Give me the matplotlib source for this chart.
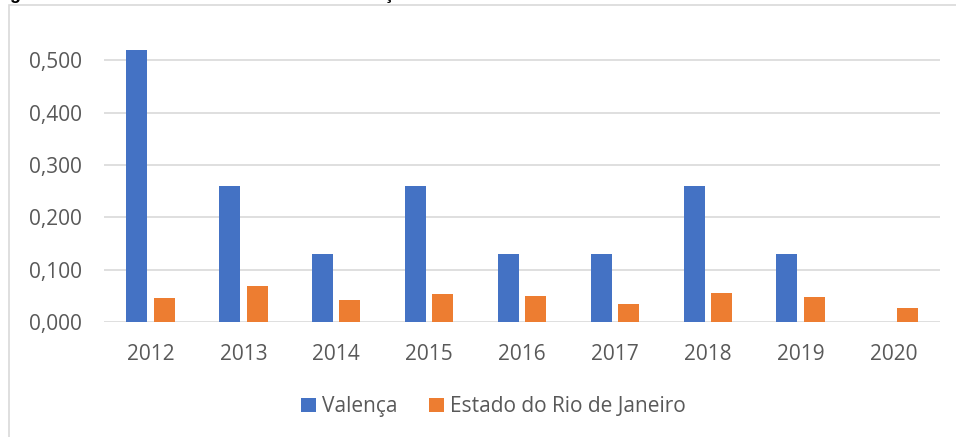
import matplotlib.pyplot as plt
import numpy as np
from matplotlib.patches import Rectangle

anos = ["2012", "2013", "2014", "2015", "2016", "2017", "2018", "2019", "2020"]
valenca = [0.520, 0.260, 0.130, 0.260, 0.130, 0.130, 0.260, 0.130, 0.0]
estado_rj = [0.046, 0.069, 0.042, 0.053, 0.050, 0.034, 0.055, 0.048, 0.027]
titulo = "gráfico 3 – Número de óbitos devido a doenças associadas à falta de saneamento básico"

plt.rcParams['font.family'] = ['Open Sans', 'DejaVu Sans']

W, H = 956, 437
fig = plt.figure(figsize=(W / 100, H / 100), dpi=100)
ax = fig.add_axes([104 / W, 1 - 322 / H, 836 / W, (322 - 8) / H])

x = np.arange(len(anos))
w = 0.226
ax.bar(x - 0.148, valenca, w, color="#4472C4", label="Valença")
ax.bar(x + 0.148, estado_rj, w, color="#ED7D31", label="Estado do Rio de Janeiro")

ax.set_xlim(-0.5, len(anos) - 0.5)
ax.set_ylim(0, 0.6)
ax.set_yticks([0, 0.1, 0.2, 0.3, 0.4, 0.5])
ax.set_yticklabels(["0,000", "0,100", "0,200", "0,300", "0,400", "0,500"])
ax.set_xticks(x)
ax.set_xticklabels(anos)
ax.tick_params(length=0, labelsize=15, colors="#595959")
ax.tick_params(axis="y", pad=16)
ax.tick_params(axis="x", pad=15.5)
ax.grid(axis="y", color="#d9d9d9", lw=1.2)
ax.set_axisbelow(True)
for s in ax.spines.values():
    s.set_visible(False)

ax.legend(loc="center", bbox_to_anchor=(0.466, -0.27), ncol=2, frameon=False,
          fontsize=15, labelcolor="#595959", handlelength=0.7, handleheight=0.7,
          columnspacing=1.5, handletextpad=0.3)

# moldura do grafico
fig.patches.append(Rectangle((9 / W, -0.1), 1.2, 1 - 5 / H + 0.1, transform=fig.transFigure,
                             fill=False, edgecolor="#d9d9d9", lw=1.2))
# titulo cortado no topo
fig.text(10 / W, 1.0 + 1 / H, titulo, fontsize=13, fontweight="bold", color="black",
         va="baseline", ha="left", family="Liberation Sans")

fig.savefig("out.png", dpi=100)
